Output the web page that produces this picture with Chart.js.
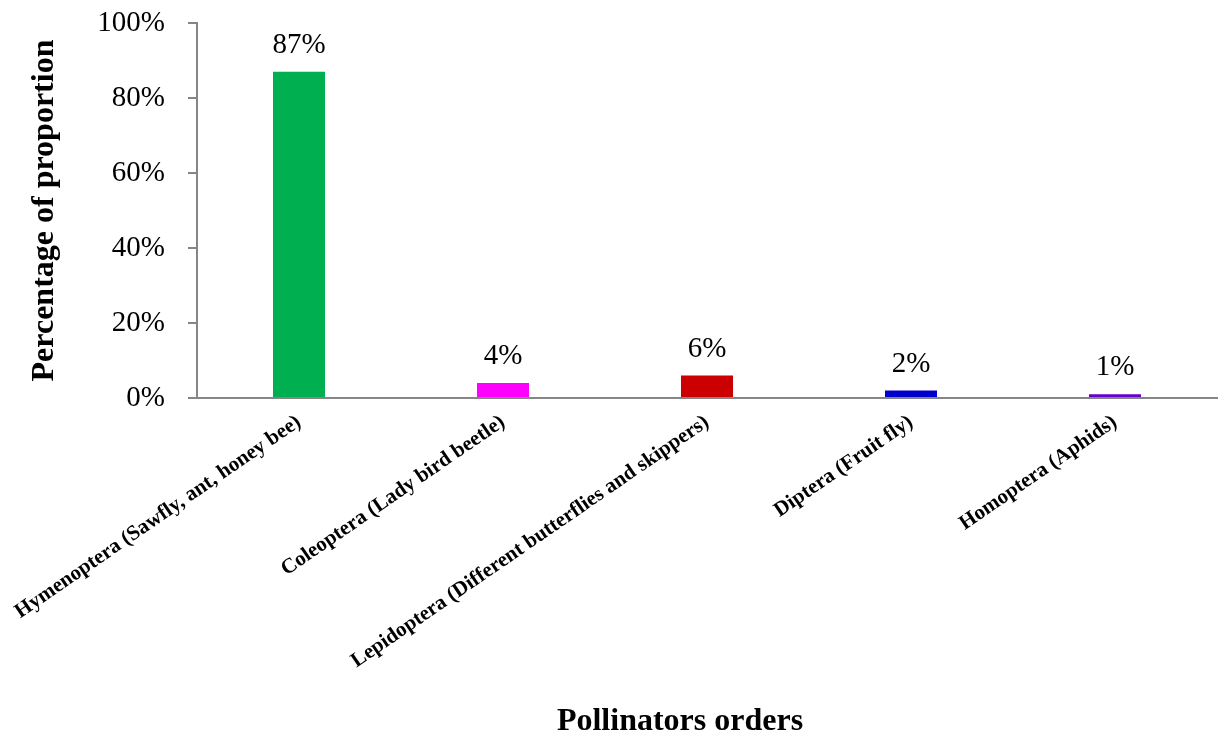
<!DOCTYPE html>
<html>
<head>
<meta charset="utf-8">
<script src="https://cdn.jsdelivr.net/npm/chart.js@4/dist/chart.umd.min.js"></script>
<style>
  html, body { margin: 0; padding: 0; background: #ffffff; }
  canvas { display: block; }
</style>
</head>
<body>
<canvas id="chart" width="1227" height="738"></canvas>
<script>
// Pollinator orders and their share of visits (percent)
const categories = [
  'Hymenoptera (Sawfly, ant, honey bee)',
  'Coleoptera (Lady bird beetle)',
  'Lepidoptera (Different butterflies and skippers)',
  'Diptera (Fruit fly)',
  'Homoptera (Aphids)'
];
const proportions = [87, 4, 6, 2, 1];
const barColors = ['#00B050', '#FF00FF', '#CC0000', '#0000CC', '#6600CC'];
const yTicks = [0, 20, 40, 60, 80, 100];

const serif = "'Liberation Serif', 'Times New Roman', serif";
const axisGray = '#868686';

// Percentage labels above each bar
const valueLabels = {
  id: 'valueLabels',
  afterDatasetsDraw(chart) {
    const ctx = chart.ctx;
    const meta = chart.getDatasetMeta(0);
    ctx.save();
    ctx.font = '29px ' + serif;
    ctx.fillStyle = '#000000';
    ctx.textAlign = 'center';
    ctx.textBaseline = 'bottom';
    meta.data.forEach((bar, i) => {
      ctx.fillText(proportions[i] + '%', bar.x, bar.y - 12);
    });
    ctx.restore();
  }
};

// Horizontal axis title
const xTitle = {
  id: 'xTitle',
  afterDraw(chart) {
    const ctx = chart.ctx;
    ctx.save();
    ctx.font = 'bold 32px ' + serif;
    ctx.fillStyle = '#000000';
    ctx.textAlign = 'center';
    ctx.textBaseline = 'middle';
    ctx.fillText('Pollinators orders', 680, 722);
    ctx.restore();
  }
};

new Chart(document.getElementById('chart'), {
  type: 'bar',
  data: {
    labels: categories,
    datasets: [{
      data: proportions,
      backgroundColor: barColors,
      borderWidth: 0,
      barPercentage: 0.255,
      categoryPercentage: 1.0
    }]
  },
  options: {
    responsive: false,
    animation: false,
    layout: { padding: { top: 23, right: 10, bottom: 0, left: 0 } },
    plugins: {
      legend: { display: false },
      tooltip: { enabled: false }
    },
    scales: {
      x: {
        offset: true,
        grid: { display: false },
        border: { display: true, color: axisGray, width: 2 },
        ticks: {
          autoSkip: false,
          minRotation: 34.5,
          maxRotation: 34.5,
          padding: 4,
          color: '#000000',
          font: { family: serif, size: 21, weight: 'bold' }
        },
        afterFit(scale) {
          scale.height = 340;
          scale.paddingLeft = 0;
          scale.paddingRight = 0;
        }
      },
      y: {
        min: 0,
        max: 100,
        afterBuildTicks(scale) {
          scale.ticks = yTicks.map(v => ({ value: v }));
        },
        grid: {
          drawOnChartArea: false,
          drawTicks: true,
          tickLength: 9,
          color: axisGray,
          lineWidth: 2
        },
        border: { display: true, color: axisGray, width: 2 },
        ticks: {
          padding: 23,
          color: '#000000',
          font: { family: serif, size: 29 },
          callback: v => v + '%'
        },
        title: {
          display: true,
          text: 'Percentage of proportion',
          color: '#000000',
          font: { family: serif, size: 32, weight: 'bold' },
          padding: { top: 26, bottom: 0 }
        },
        afterFit(scale) {
          scale.width = 197;
          scale.paddingTop = 0;
          scale.paddingBottom = 0;
        }
      }
    }
  },
  plugins: [valueLabels, xTitle]
});
</script>
</body>
</html>
